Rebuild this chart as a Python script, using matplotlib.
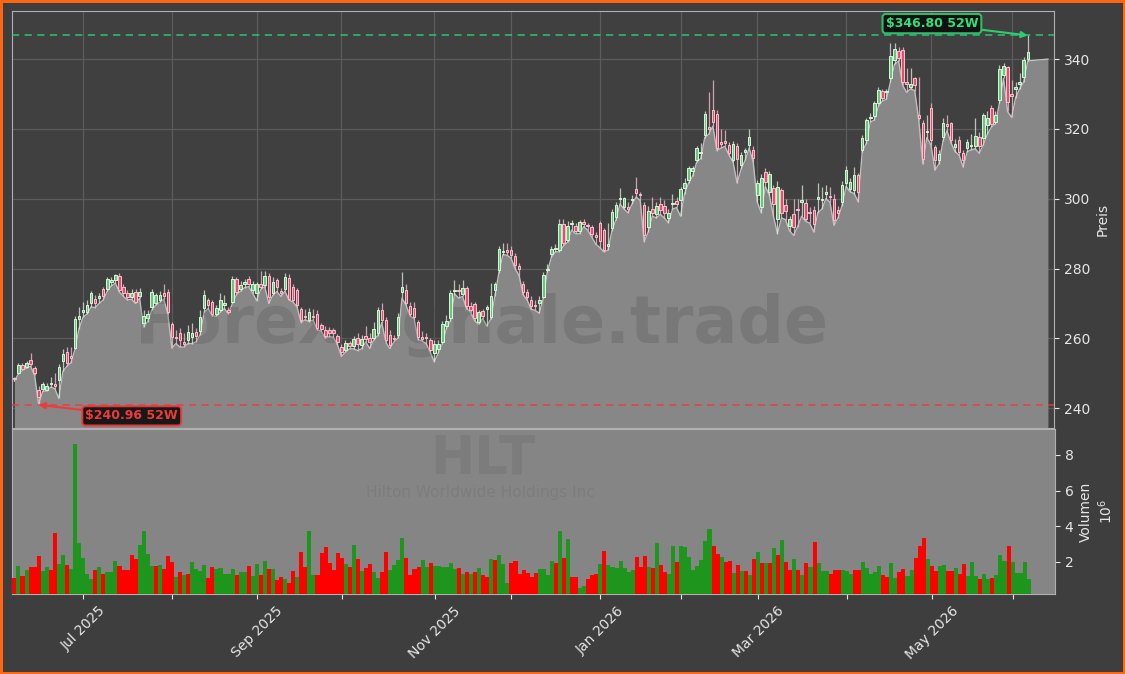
import numpy as np
import pandas as pd
import matplotlib
matplotlib.use("Agg")
import matplotlib.pyplot as plt

# NYSE holidays inside the window
holidays = ["2025-06-19", "2025-07-04", "2025-09-01", "2025-11-27", "2025-12-25",
            "2026-01-01", "2026-01-19", "2026-02-16", "2026-04-03", "2026-05-25"]

opens = [248.6, 250.1, 252.3, 251.8, 253.8, 251.4, 245.2, 245.6, 245.2, 246.8,
         246.8, 248.0, 253.6, 256.1, 255.0, 257.1, 265.5, 267.5, 267.6, 270.0,
         271.4, 271.5, 274.0, 274.0, 276.2, 276.7, 278.0, 274.8, 272.9, 271.9,
         273.3, 272.0, 264.3, 265.7, 269.0, 270.0, 271.0, 273.0, 273.3, 264.0,
         260.5, 261.4, 259.0, 259.5, 260.5, 261.8, 262.0, 268.6, 270.9, 270.5,
         267.1, 268.1, 269.5, 268.0, 270.5, 276.9, 274.2, 275.5, 277.1, 273.8,
         272.9, 275.7, 275.4, 277.8, 273.0, 276.7, 273.5, 274.0, 277.4, 274.8,
         273.8, 268.5, 266.5, 265.2, 266.2, 267.1, 263.8, 262.3, 262.5, 262.5,
         260.6, 257.6, 256.6, 258.7, 257.8, 260.2, 258.0, 260.6, 260.2, 260.0,
         261.4, 268.1, 265.2, 260.9, 260.2, 261.0, 273.3, 273.8, 269.2, 268.6,
         264.7, 260.3, 260.4, 259.5, 255.7, 256.8, 259.0, 263.5, 265.7, 273.6,
         273.8, 272.7, 274.3, 269.2, 269.8, 264.7, 267.9, 268.5, 266.0, 273.8,
         279.5, 284.8, 285.3, 285.3, 283.6, 280.7, 275.7, 273.3, 271.1, 269.6,
         270.2, 271.9, 279.5, 284.1, 285.5, 285.3, 292.7, 288.1, 292.8, 292.2,
         290.8, 293.4, 292.5, 291.8, 289.5, 293.0, 291.0, 286.5, 291.5, 294.8,
         299.8, 297.7, 297.5, 299.5, 302.7, 301.2, 298.2, 291.8, 297.2, 295.6,
         298.6, 297.9, 294.4, 298.5, 299.4, 299.6, 303.2, 305.5, 308.0, 311.1,
         313.0, 318.2, 320.5, 325.4, 324.4, 316.2, 316.5, 315.3, 311.0, 315.1,
         309.6, 313.5, 315.3, 314.1, 301.0, 297.7, 307.7, 302.0, 303.2, 294.1,
         302.5, 298.2, 292.1, 295.6, 297.0, 299.0, 298.8, 296.0, 296.9, 300.0,
         299.5, 301.5, 300.8, 300.0, 296.9, 299.1, 304.4, 302.9, 302.5, 306.7,
         314.1, 316.8, 323.0, 323.7, 327.3, 330.8, 330.5, 334.5, 339.7, 342.4,
         342.6, 333.5, 332.0, 334.5, 324.0, 321.6, 319.0, 325.9, 314.9, 311.1,
         317.7, 321.3, 321.7, 314.7, 316.8, 313.2, 314.4, 315.0, 315.0, 317.7,
         317.3, 321.0, 326.1, 322.0, 328.2, 335.4, 337.8, 330.0, 331.5, 333.0,
         334.9, 340.0]

highs = [249.0, 253.0, 253.0, 253.6, 255.9, 252.0, 246.2, 247.6, 247.3, 249.0,
         250.0, 252.5, 257.0, 257.5, 257.5, 266.5, 269.0, 270.5, 271.0, 273.5,
         272.5, 273.0, 274.8, 277.5, 277.5, 278.4, 278.6, 275.5, 273.8, 274.0,
         274.0, 274.5, 268.0, 268.0, 274.0, 273.0, 273.5, 275.5, 274.0, 264.8,
         262.5, 263.0, 261.5, 263.8, 264.5, 263.0, 268.0, 273.8, 271.6, 271.0,
         269.5, 273.0, 272.5, 269.0, 277.9, 277.5, 276.5, 277.0, 278.0, 276.5,
         276.2, 279.3, 279.4, 278.6, 277.5, 277.4, 274.5, 278.6, 278.3, 275.5,
         274.5, 269.0, 268.5, 268.8, 268.5, 268.2, 264.5, 263.4, 263.2, 263.0,
         261.2, 258.3, 259.6, 259.3, 260.6, 261.5, 261.0, 263.4, 261.5, 264.8,
         269.0, 270.2, 266.0, 262.5, 261.0, 267.3, 279.1, 275.5, 270.5, 270.5,
         265.3, 262.0, 261.5, 260.2, 259.5, 259.6, 265.0, 266.8, 273.8, 276.7,
         275.5, 276.8, 275.0, 270.3, 270.5, 268.2, 268.5, 269.5, 275.8, 276.0,
         286.5, 287.2, 287.2, 286.5, 284.5, 281.5, 276.5, 274.2, 272.0, 271.0,
         272.2, 279.0, 281.2, 286.5, 287.0, 294.2, 294.2, 293.5, 294.0, 293.0,
         294.0, 294.2, 293.0, 292.5, 290.5, 293.5, 291.5, 293.0, 297.0, 299.0,
         303.2, 300.5, 299.0, 301.0, 306.1, 302.0, 299.0, 298.0, 300.5, 299.0,
         300.5, 299.5, 297.0, 301.5, 300.5, 303.5, 305.8, 309.5, 309.5, 315.0,
         316.0, 325.0, 330.5, 334.0, 325.5, 320.0, 319.8, 316.2, 316.5, 316.0,
         313.5, 314.5, 320.0, 315.0, 305.5, 307.0, 308.8, 308.0, 304.0, 305.0,
         303.0, 300.0, 295.0, 300.0, 300.0, 304.0, 300.0, 297.5, 298.0, 304.5,
         303.5, 304.0, 303.5, 301.5, 298.0, 305.0, 309.5, 306.0, 309.0, 307.5,
         318.3, 323.0, 324.5, 328.0, 332.0, 331.5, 331.5, 344.7, 344.5, 343.5,
         343.5, 337.5, 337.5, 335.0, 335.0, 322.5, 324.0, 327.5, 315.5, 314.0,
         323.0, 324.0, 322.0, 317.0, 318.0, 314.0, 317.0, 318.5, 323.0, 319.0,
         324.5, 325.0, 327.0, 325.0, 338.3, 338.8, 338.0, 334.0, 333.5, 336.0,
         340.5, 346.8]

lows = [247.8, 249.8, 250.8, 251.4, 252.0, 249.4, 240.96, 244.8, 244.9, 246.0,
        245.6, 242.8, 250.5, 252.0, 253.0, 256.8, 262.8, 266.0, 267.0, 269.0,
        268.8, 270.0, 271.0, 273.5, 275.0, 275.8, 273.3, 272.0, 271.0, 271.2,
        270.0, 271.5, 263.2, 264.8, 268.0, 269.5, 270.3, 271.2, 267.0, 257.2,
        258.5, 257.5, 257.5, 258.5, 258.5, 259.0, 261.0, 267.5, 268.5, 266.5,
        266.3, 267.5, 268.5, 267.0, 270.0, 272.5, 273.5, 274.5, 274.8, 273.0,
        270.8, 274.0, 274.8, 270.0, 272.3, 273.4, 272.0, 273.5, 271.0, 270.4,
        269.0, 264.5, 265.3, 264.8, 265.2, 262.5, 262.0, 260.0, 260.5, 260.3,
        258.2, 254.8, 256.0, 257.0, 257.0, 256.5, 257.0, 259.0, 257.1, 259.5,
        260.8, 264.5, 258.8, 257.1, 259.0, 260.0, 271.5, 269.5, 266.4, 265.6,
        259.6, 259.2, 258.5, 256.0, 253.3, 255.8, 258.5, 262.8, 265.0, 272.8,
        271.5, 272.0, 268.5, 267.5, 265.0, 264.0, 265.7, 263.5, 265.5, 272.0,
        278.8, 284.0, 283.8, 283.0, 280.0, 278.0, 272.5, 271.0, 268.3, 268.0,
        267.2, 271.5, 279.0, 283.2, 284.8, 284.8, 286.5, 287.5, 291.0, 290.0,
        290.0, 292.0, 291.0, 289.0, 287.0, 286.0, 284.8, 285.2, 290.8, 294.0,
        298.5, 297.0, 296.0, 298.5, 300.5, 299.5, 287.7, 290.5, 295.0, 294.5,
        295.5, 294.5, 293.1, 297.0, 297.5, 295.0, 301.5, 304.5, 306.5, 310.5,
        311.5, 317.5, 318.5, 320.8, 313.8, 314.5, 315.0, 312.5, 310.5, 304.5,
        308.5, 311.0, 314.5, 310.5, 299.0, 296.0, 303.5, 301.0, 295.0, 290.0,
        294.5, 294.0, 290.8, 289.5, 292.0, 295.0, 293.5, 293.0, 290.5, 296.0,
        297.0, 300.0, 299.0, 292.4, 294.5, 298.0, 303.5, 302.0, 301.5, 299.1,
        313.5, 315.8, 322.0, 322.5, 326.5, 328.0, 328.5, 333.5, 338.5, 339.5,
        332.5, 330.5, 331.5, 331.0, 322.5, 310.0, 317.5, 315.5, 308.2, 310.0,
        316.5, 319.5, 316.0, 313.5, 312.5, 309.1, 313.5, 314.0, 314.3, 313.0,
        315.5, 318.5, 320.5, 321.5, 327.5, 334.5, 325.0, 323.3, 329.0, 331.5,
        333.5, 339.5]

closes = [248.2, 252.3, 251.2, 252.8, 252.6, 250.0, 243.2, 246.9, 246.3, 247.2,
          246.4, 251.8, 255.5, 253.0, 254.5, 265.4, 266.5, 268.2, 269.5, 272.9,
          270.2, 272.0, 272.1, 276.9, 276.7, 278.1, 273.8, 272.9, 271.7, 273.0,
          270.5, 273.3, 266.4, 267.1, 273.3, 272.4, 272.4, 272.0, 267.6, 260.3,
          260.0, 259.5, 258.5, 261.9, 261.5, 260.8, 266.2, 272.4, 269.5, 267.1,
          268.6, 271.1, 270.0, 267.6, 276.9, 273.3, 275.2, 276.0, 275.7, 275.7,
          275.7, 274.8, 277.8, 271.7, 276.2, 274.6, 273.0, 277.6, 271.4, 271.0,
          269.5, 265.2, 266.0, 267.6, 266.0, 263.1, 262.8, 260.6, 261.4, 261.4,
          259.0, 256.1, 258.7, 257.8, 259.7, 258.3, 259.7, 259.7, 259.0, 262.8,
          268.1, 265.2, 259.5, 258.0, 259.8, 266.2, 274.8, 270.0, 267.1, 266.2,
          260.4, 259.9, 260.0, 256.6, 258.5, 258.3, 264.1, 265.0, 273.0, 273.9,
          273.5, 274.3, 269.2, 268.1, 265.7, 267.5, 266.4, 268.8, 272.0, 275.7,
          285.5, 285.0, 284.8, 283.8, 281.0, 280.0, 273.3, 271.9, 269.2, 269.2,
          270.9, 278.1, 280.0, 285.5, 285.8, 292.7, 287.2, 292.2, 293.0, 290.8,
          293.4, 292.7, 292.2, 290.0, 289.0, 288.0, 285.3, 287.0, 296.3, 298.2,
          300.1, 300.1, 297.2, 299.8, 301.7, 301.0, 289.6, 296.5, 295.8, 297.9,
          296.7, 296.0, 296.0, 298.8, 298.5, 302.7, 304.6, 308.7, 308.7, 314.4,
          313.5, 324.4, 320.0, 322.0, 314.4, 315.8, 316.0, 313.0, 315.8, 311.5,
          312.5, 313.7, 317.6, 311.8, 304.6, 305.8, 304.8, 307.2, 298.6, 303.4,
          295.8, 296.5, 294.1, 292.0, 296.7, 299.6, 294.3, 295.8, 292.9, 300.5,
          299.6, 302.0, 300.5, 294.0, 295.8, 303.9, 308.2, 304.9, 306.7, 302.0,
          317.3, 322.5, 323.3, 327.3, 331.3, 328.9, 330.9, 340.9, 343.0, 340.2,
          333.5, 333.0, 333.0, 332.5, 323.0, 311.5, 319.5, 316.8, 311.1, 312.8,
          321.6, 320.9, 316.8, 315.6, 313.5, 311.1, 316.3, 315.2, 318.0, 315.1,
          323.9, 323.0, 321.4, 324.0, 337.3, 338.0, 327.8, 329.5, 332.0, 333.5,
          339.7, 342.0]

# volume in millions of shares
volume = [1.09, 1.78, 1.18, 1.55, 1.68, 1.68, 2.30, 1.50, 1.72, 1.55,
          3.60, 1.88, 2.39, 1.83, 1.60, 8.62, 3.04, 2.22, 1.33, 1.00,
          1.55, 1.72, 1.33, 1.39, 1.39, 2.05, 1.78, 1.55, 1.55, 2.39,
          2.17, 2.95, 3.72, 2.44, 1.78, 1.78, 1.83, 1.60, 2.33, 2.00,
          1.16, 1.44, 1.27, 1.33, 2.00, 1.60, 1.50, 1.83, 1.10, 1.72,
          1.60, 1.66, 1.33, 1.33, 1.60, 1.27, 1.44, 1.39, 1.78, 1.18,
          1.88, 1.27, 2.05, 1.60, 1.60, 0.94, 1.16, 1.00, 0.78, 1.50,
          1.16, 2.55, 1.72, 3.72, 1.27, 1.27, 2.50, 2.83, 1.94, 1.55,
          2.50, 2.22, 1.88, 1.72, 2.95, 2.17, 1.50, 1.66, 1.88, 1.39,
          1.10, 1.44, 2.55, 1.55, 1.83, 2.10, 3.33, 2.20, 1.27, 1.61,
          1.72, 2.11, 1.72, 1.94, 1.78, 1.78, 1.72, 1.72, 1.94, 1.61,
          1.66, 1.33, 1.44, 1.33, 1.44, 1.66, 1.27, 1.16, 2.17, 2.11,
          2.39, 1.89, 0.82, 1.94, 2.06, 1.33, 1.55, 1.38, 1.16, 1.38,
          1.61, 1.61, 1.27, 2.06, 1.94, 3.74, 2.22, 3.29, 1.16, 1.16,
          0.54, 0.65, 1.05, 1.27, 1.33, 1.89, 2.62, 1.83, 1.72, 1.66,
          2.06, 1.66, 1.44, 1.55, 2.28, 1.72, 2.34, 1.72, 1.66, 3.06,
          1.83, 1.44, 1.33, 2.90, 2.00, 2.90, 2.84, 2.28, 1.55, 1.78,
          2.11, 3.18, 3.85, 2.90, 2.45, 2.28, 2.00, 2.06, 1.38, 1.83,
          1.50, 1.50, 1.27, 2.17, 2.56, 1.94, 1.94, 1.94, 2.79, 2.39,
          3.23, 2.00, 1.55, 2.17, 1.55, 1.27, 1.94, 1.72, 3.12, 1.94,
          1.50, 1.50, 1.33, 1.55, 1.55, 1.55, 1.50, 1.33, 1.55, 1.55,
          2.00, 1.66, 1.33, 1.44, 1.78, 1.27, 1.16, 1.94, 1.10, 1.44,
          1.61, 1.21, 1.55, 2.22, 2.90, 3.35, 2.17, 1.78, 1.50, 1.78,
          1.83, 1.50, 1.50, 1.66, 1.33, 1.89, 1.21, 2.00, 1.21, 1.05,
          1.33, 1.05, 1.10, 1.27, 2.39, 2.06, 2.90, 2.00, 1.38, 1.38,
          2.00, 1.05]

# 1 = green bar, 0 = red bar (as coloured in the chart)
vol_up = [0, 1, 0, 1, 0, 0, 0, 1, 1, 0, 0, 1, 1, 0, 1, 1, 1, 1, 1, 1,
          0, 1, 0, 1, 1, 1, 0, 0, 0, 0, 0, 1, 1, 1, 1, 0, 1, 0, 0, 0,
          1, 0, 1, 0, 1, 1, 1, 1, 0, 0, 1, 1, 1, 1, 1, 0, 1, 1, 0, 1,
          1, 0, 1, 0, 1, 0, 0, 1, 0, 0, 1, 0, 0, 1, 1, 0, 0, 0, 0, 0,
          0, 0, 1, 0, 1, 0, 1, 0, 0, 1, 1, 0, 0, 1, 1, 1, 1, 0, 0, 0,
          0, 1, 1, 0, 1, 1, 1, 1, 1, 1, 0, 1, 0, 1, 0, 1, 0, 0, 1, 0,
          1, 1, 1, 0, 0, 0, 0, 0, 0, 0, 1, 1, 1, 1, 0, 1, 0, 1, 0, 0,
          1, 1, 0, 0, 0, 1, 0, 1, 1, 1, 1, 1, 1, 1, 0, 0, 0, 1, 0, 1,
          0, 0, 1, 1, 0, 1, 1, 1, 1, 1, 1, 1, 1, 0, 0, 1, 0, 0, 1, 0,
          1, 0, 1, 0, 1, 0, 1, 0, 1, 0, 1, 0, 0, 1, 0, 1, 0, 1, 0, 1,
          1, 1, 0, 0, 0, 1, 1, 1, 0, 0, 1, 1, 1, 1, 1, 0, 0, 1, 1, 0,
          0, 1, 1, 0, 0, 0, 1, 0, 0, 1, 1, 0, 0, 1, 0, 0, 1, 1, 1, 0,
          1, 1, 0, 1, 1, 1, 0, 1, 1, 1, 1, 1]

ticker = "HLT"
company = "Hilton Worldwide Holdings Inc"
watermark = "Forexsignale.trade"

BG = "#3e3e3e"
FILL = "#878787"
TXT = "#e6e6e6"


def main():
    dates = pd.bdate_range("2025-06-05", "2026-06-05")
    dates = dates[~dates.isin(pd.to_datetime(holidays))]
    n = len(dates)
    x = np.arange(n)

    o = np.array(opens)
    h = np.array(highs)
    l = np.array(lows)
    c = np.array(closes)
    v = np.array(volume)

    fig = plt.figure(figsize=(11.25, 6.74), dpi=100)
    fig.patch.set_facecolor(BG)
    fig.patch.set_edgecolor("#ff6611")
    fig.patch.set_linewidth(3.5)

    ax = fig.add_axes([12 / 1125, 1 - 428 / 674, 1042 / 1125, 417 / 674])
    axv = fig.add_axes([12 / 1125, 1 - 594 / 674, 1043 / 1125, 165 / 674], sharex=ax)

    ymin, ymax = 234.3, 353.8
    ax.set_facecolor("#404040")
    ax.set_axisbelow(True)
    ax.grid(True, color="#5c5c5c", lw=0.9)

    # area under the lows, held flat past the last bar
    xf = np.append(x, n + 4)
    lf = np.append(l, l[-1] + 0.5)
    ax.fill_between(xf, lf, ymin, color=FILL, zorder=1, lw=0)
    ax.plot(xf, lf, color="#bfbfbf", lw=1.0, zorder=2)

    ax.text(0.451, 0.247, watermark, transform=ax.transAxes, fontsize=47,
            fontweight="bold", color="#404040", alpha=0.2, ha="center",
            va="center", zorder=2.5)

    # candles
    up = c >= o
    wick_col = np.where(up, "#d4e6d4", "#efbccb")
    ax.vlines(x, l, h, colors=wick_col, lw=0.9, alpha=0.8, zorder=3)
    body_lo = np.minimum(o, c)
    body_h = np.maximum(np.abs(c - o), 0.35)
    ax.bar(x[up], body_h[up], bottom=body_lo[up], width=0.62,
           color="#6cc47e", edgecolor="#d8f7d8", lw=0.7, zorder=4)
    ax.bar(x[~up], body_h[~up], bottom=body_lo[~up], width=0.62,
           color="#e0506f", edgecolor="#ffbfcf", lw=0.7, zorder=4)

    # 52 week high / low
    hi_i, lo_i = int(np.argmax(h)), int(np.argmin(l))
    hi_v, lo_v = h[hi_i], l[lo_i]
    ax.axhline(hi_v, color="#2ecc71", ls=(0, (4, 3)), lw=1.3, alpha=0.8, zorder=5)
    ax.axhline(lo_v, color="#f03a3a", ls=(0, (4, 3)), lw=1.3, alpha=0.8, zorder=5)
    ax.annotate(f"${hi_v:.2f} 52W", xy=(hi_i, hi_v), xytext=(-69, 8.5),
                textcoords="offset points", ha="center", va="center",
                fontsize=9, fontweight="bold", color="#2ee07a", zorder=6,
                bbox=dict(boxstyle="round,pad=0.25", fc="#0c0c0c", ec="#2ecc71", lw=1.5, alpha=0.9),
                arrowprops=dict(arrowstyle="-|>", color="#2ecc71", lw=1.5, shrinkA=0, shrinkB=0))
    ax.annotate(f"${lo_v:.2f} 52W", xy=(lo_i, lo_v), xytext=(67, -8),
                textcoords="offset points", ha="center", va="center",
                fontsize=9, fontweight="bold", color="#f03a3a", zorder=6,
                bbox=dict(boxstyle="round,pad=0.25", fc="#0c0c0c", ec="#f03a3a", lw=1.5, alpha=0.9),
                arrowprops=dict(arrowstyle="-|>", color="#f03a3a", lw=1.5, shrinkA=0, shrinkB=0))

    ax.set_ylim(ymin, ymax)
    ax.yaxis.tick_right()
    ax.yaxis.set_label_position("right")
    ax.set_yticks(np.arange(240, 341, 20))
    ax.set_ylabel("Preis", color=TXT, fontsize=10)
    ax.tick_params(axis="y", colors=TXT, labelsize=10)
    ax.tick_params(axis="x", bottom=False, labelbottom=False)
    for s in ax.spines.values():
        s.set_color("#b0b0b0")

    # volume panel
    axv.set_facecolor("#858585")
    vcol = ["#1e961e" if u else "#ff0000" for u in vol_up]
    axv.bar(x, v, width=1.0, color=vcol, lw=0, zorder=3)
    axv.set_ylim(0.18, 9.46)
    axv.yaxis.tick_right()
    axv.yaxis.set_label_position("right")
    axv.set_yticks([2, 4, 6, 8])
    axv.set_ylabel("Volumen\n$10^6$", color=TXT, fontsize=10)
    axv.tick_params(axis="y", colors=TXT, labelsize=10)
    for s in axv.spines.values():
        s.set_color("#b0b0b0")

    axv.text(0.451, 0.82, ticker, transform=axv.transAxes, fontsize=38,
             fontweight="bold", color="#404040", alpha=0.12, ha="center", va="center", zorder=1)
    axv.text(0.449, 0.615, company, transform=axv.transAxes, fontsize=11,
             color="#404040", alpha=0.12, ha="center", va="center", zorder=1)

    # month ticks at the first trading day of each month
    months = dates.to_period("M")
    tick_idx = [i for i in range(1, n) if months[i] != months[i - 1]]
    tick_lab = [dates[i].strftime("%b %Y") if dates[i].month % 2 == 1 else "" for i in tick_idx]
    axv.set_xticks(tick_idx)
    axv.set_xticklabels(tick_lab, rotation=45, color=TXT, fontsize=10)
    axv.tick_params(axis="x", colors=TXT)
    ax.set_xlim(-0.6, n + 5.5)

    fig.savefig("out.png", dpi=100, facecolor=fig.get_facecolor(),
                edgecolor=fig.get_edgecolor())
    plt.close(fig)


if __name__ == "__main__":
    main()
